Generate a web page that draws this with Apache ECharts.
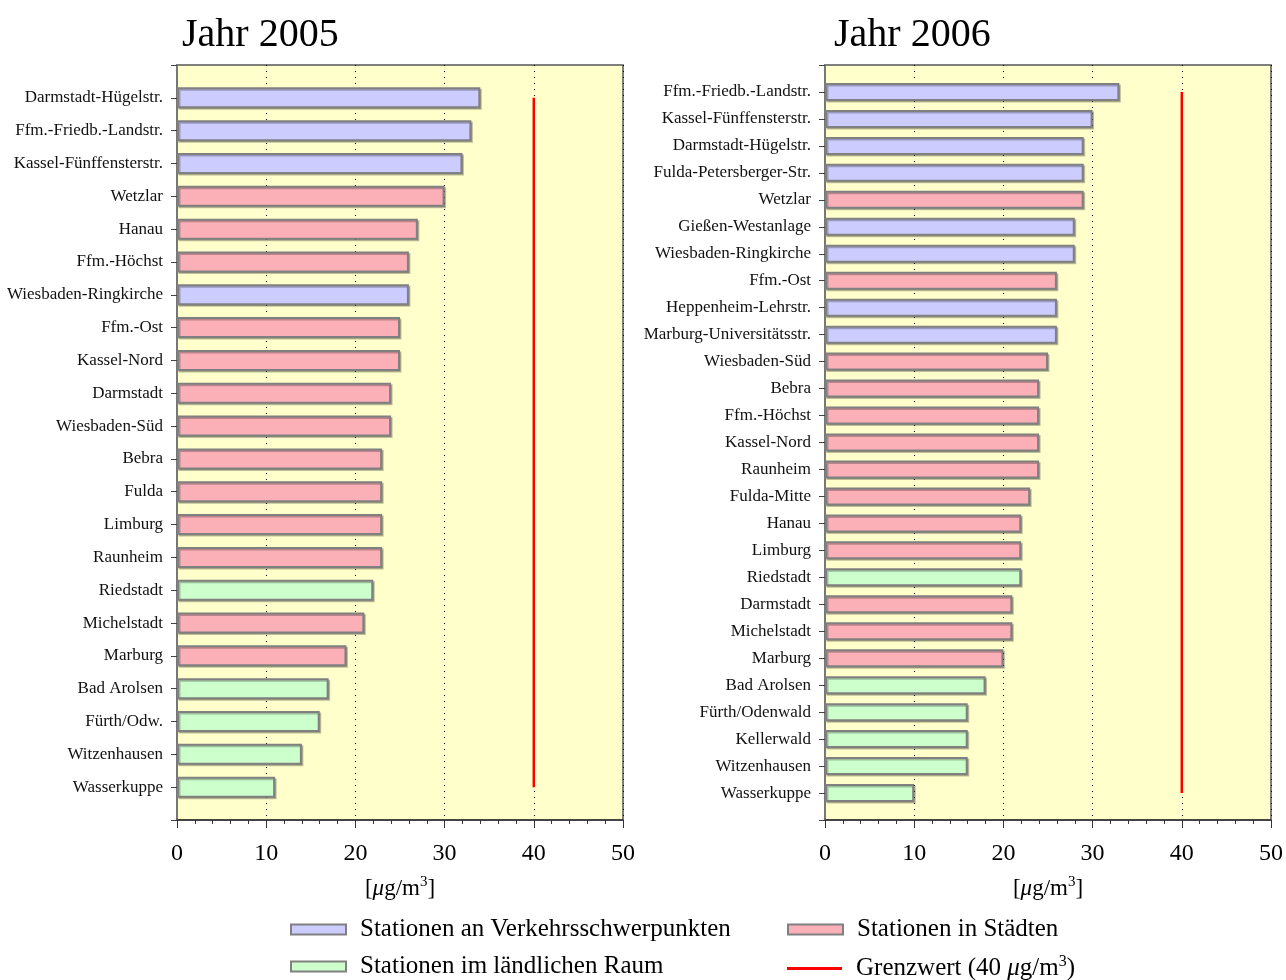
<!DOCTYPE html>
<html>
<head>
<meta charset="utf-8">
<script src="https://cdn.jsdelivr.net/npm/echarts@6/dist/echarts.min.js"></script>
<style>
	body { margin: 0; background: #fff; }
	#chart { width: 1286px; height: 980px; }
</style>
</head>
<body>
<div id="chart"></div>
<script>
	// Jahr 2005
	var cats2005 = ['Darmstadt-Hügelstr.', 'Ffm.-Friedb.-Landstr.', 'Kassel-Fünffensterstr.', 'Wetzlar', 'Hanau',
		'Ffm.-Höchst', 'Wiesbaden-Ringkirche', 'Ffm.-Ost', 'Kassel-Nord', 'Darmstadt', 'Wiesbaden-Süd', 'Bebra',
		'Fulda', 'Limburg', 'Raunheim', 'Riedstadt', 'Michelstadt', 'Marburg', 'Bad Arolsen', 'Fürth/Odw.',
		'Witzenhausen', 'Wasserkuppe'];
	var vals2005 = [34, 33, 32, 30, 27, 26, 26, 25, 25, 24, 24, 23, 23, 23, 23, 22, 21, 19, 17, 16, 14, 11];
	// V = Verkehrsschwerpunkt, S = Stadt, L = ländlich
	var type2005 = ['V', 'V', 'V', 'S', 'S', 'S', 'V', 'S', 'S', 'S', 'S', 'S', 'S', 'S', 'S', 'L', 'S', 'S',
		'L', 'L', 'L', 'L'];

	// Jahr 2006
	var cats2006 = ['Ffm.-Friedb.-Landstr.', 'Kassel-Fünffensterstr.', 'Darmstadt-Hügelstr.', 'Fulda-Petersberger-Str.',
		'Wetzlar', 'Gießen-Westanlage', 'Wiesbaden-Ringkirche', 'Ffm.-Ost', 'Heppenheim-Lehrstr.',
		'Marburg-Universitätsstr.', 'Wiesbaden-Süd', 'Bebra', 'Ffm.-Höchst', 'Kassel-Nord', 'Raunheim',
		'Fulda-Mitte', 'Hanau', 'Limburg', 'Riedstadt', 'Darmstadt', 'Michelstadt', 'Marburg', 'Bad Arolsen',
		'Fürth/Odenwald', 'Kellerwald', 'Witzenhausen', 'Wasserkuppe'];
	var vals2006 = [33, 30, 29, 29, 29, 28, 28, 26, 26, 26, 25, 24, 24, 24, 24, 23, 22, 22, 22, 21, 21, 20, 18,
		16, 16, 16, 10];
	var type2006 = ['V', 'V', 'V', 'V', 'S', 'V', 'V', 'S', 'V', 'V', 'S', 'S', 'S', 'S', 'S', 'S', 'S', 'S',
		'L', 'S', 'S', 'S', 'L', 'L', 'L', 'L', 'L'];

	var grenzwert = 40;
	var xTicks = [0, 50, 10]; // min, max, interval

	var groups = [
		{ code: 'V', name: 'Stationen an Verkehrsschwerpunkten', color: '#ccccff' },
		{ code: 'S', name: 'Stationen in Städten', color: '#fbb0b8' },
		{ code: 'L', name: 'Stationen im ländlichen Raum', color: '#ccffcc' }
	];
	var lineName = 'Grenzwert';
	var font = 'Liberation Serif';

	var myChart = echarts.init(document.getElementById('chart'));

	function padCats(cats) {
		return [''].concat(cats).concat(['']);
	}

	function makeSeries(idx, cats, vals, types, barWidth) {
		var list = [];
		groups.forEach(function(g) {
			var data = ['-'];
			for (var i = 0; i < vals.length; i++) {
				data.push(types[i] === g.code ? vals[i] : '-');
			}
			data.push('-');
			list.push({
				name: g.name,
				type: 'bar',
				xAxisIndex: idx,
				yAxisIndex: idx,
				stack: 'st' + idx,
				barWidth: barWidth,
				data: data,
				itemStyle: {
					color: g.color,
					borderColor: '#808080',
					borderWidth: 2,
					shadowColor: 'rgba(0,0,0,0.25)',
					shadowOffsetX: 1.5,
					shadowOffsetY: 1.5
				}
			});
		});
		// Grenzwert-Linie vom ersten bis zum letzten Standort
		list.push({
			name: lineName,
			type: 'line',
			xAxisIndex: idx,
			yAxisIndex: idx,
			showSymbol: false,
			symbol: 'none',
			data: [[grenzwert, cats[0]], [grenzwert, cats[cats.length - 1]]],
			lineStyle: { color: '#ff0000', width: 2.5 },
			itemStyle: { color: '#ff0000' },
			z: 3
		});
		return list;
	}

	function makeXAxis(idx) {
		return {
			type: 'value',
			gridIndex: idx,
			min: xTicks[0],
			max: xTicks[1],
			interval: xTicks[2],
			name: '{b|[}{mu|μ}{b|g/m}{sup|3}{b|]}',
			nameLocation: 'middle',
			nameGap: 55,
			nameTextStyle: {
				rich: {
					b: { fontFamily: font, fontSize: 23, color: '#000' },
					mu: { fontFamily: font, fontSize: 23, fontStyle: 'italic', color: '#000' },
					sup: { fontFamily: font, fontSize: 15, color: '#000', padding: [0, 0, 12, 0] }
				}
			},
			axisLine: { show: true, lineStyle: { color: '#333', width: 1.5 } },
			axisTick: { show: true, length: 8, lineStyle: { color: '#333' } },
			minorTick: { show: true, splitNumber: 5, length: 4, lineStyle: { color: '#333' } },
			axisLabel: { fontFamily: font, fontSize: 24, color: '#000', margin: 22 },
			splitLine: { show: true, lineStyle: { color: '#000', type: [1, 5], width: 1 } }
		};
	}

	function makeYAxis(idx, cats) {
		return {
			type: 'category',
			gridIndex: idx,
			inverse: true,
			boundaryGap: false,
			data: padCats(cats),
			axisLine: { show: true, lineStyle: { color: '#777', width: 2 } },
			axisTick: { show: true, length: 6, lineStyle: { color: '#444' } },
			axisLabel: { fontFamily: font, fontSize: 17, color: '#111', margin: 14, interval: 0 },
			splitLine: { show: false }
		};
	}

	function makeLegend(name, left, top, isLine) {
		var lg = {
			left: left,
			top: top,
			padding: 0,
			selectedMode: false,
			itemWidth: 55,
			itemHeight: isLine ? 3 : 10,
			data: [{ name: name, icon: 'rect' }],
			textStyle: { fontFamily: font, fontSize: 25, color: '#000', padding: [0, 0, 0, 9] }
		};
		if (isLine) {
			lg.formatter = function() {
				return '{t|Grenzwert (40 }{mu|μ}{t|g/m}{sup|3}{t|)}';
			};
			lg.textStyle.rich = {
				t: { fontFamily: font, fontSize: 25, color: '#000' },
				mu: { fontFamily: font, fontSize: 25, fontStyle: 'italic', color: '#000' },
				sup: { fontFamily: font, fontSize: 16, color: '#000', padding: [0, 0, 13, 0] }
			};
		}
		return lg;
	}

	var option = {
		animation: false,
		title: [{
			text: 'Jahr 2005',
			left: 177,
			top: 10,
			textStyle: { fontFamily: font, fontSize: 40, fontWeight: 'normal', color: '#000' }
		}, {
			text: 'Jahr 2006',
			left: 829,
			top: 10,
			textStyle: { fontFamily: font, fontSize: 40, fontWeight: 'normal', color: '#000' }
		}],
		grid: [{
			left: 177, top: 65, width: 446, height: 755,
			show: true, backgroundColor: '#ffffcc', borderColor: '#555', borderWidth: 1.5
		}, {
			left: 825, top: 65, width: 446, height: 755,
			show: true, backgroundColor: '#ffffcc', borderColor: '#555', borderWidth: 1.5
		}],
		legend: [
			makeLegend(groups[0].name, 290, 917, false),
			makeLegend(groups[1].name, 787, 917, false),
			makeLegend(groups[2].name, 290, 954, false),
			makeLegend(lineName, 787, 954, true)
		],
		xAxis: [makeXAxis(0), makeXAxis(1)],
		yAxis: [makeYAxis(0, cats2005), makeYAxis(1, cats2006)],
		series: makeSeries(0, cats2005, vals2005, type2005, 21).concat(
			makeSeries(1, cats2006, vals2006, type2006, 18))
	};
	myChart.setOption(option);
</script>
</body>
</html>
